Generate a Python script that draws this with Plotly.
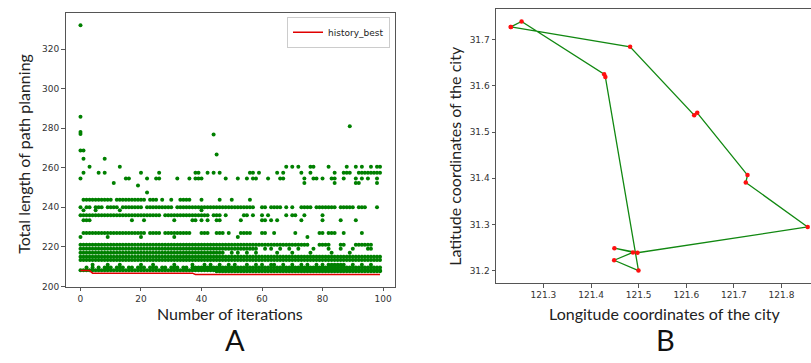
import plotly.graph_objects as go

W, H = 811, 363

# ---------------- Panel A data (iteration, path length) ----------------
# Each level: value and the iterations at which a point is seen at that level
lvl_values = [285.8, 278.0, 277.0, 276.8, 281.0, 268.7, 266.7, 264.5, 260.5,
              257.5, 254.5, 252.3, 251.0, 247.5, 243.8, 240.0, 238.5, 236.0,
              233.5, 227.0, 225.0, 221.0, 219.0, 217.0, 215.0, 213.3, 211.0,
              209.6, 208.2, 207.6]

lvl_iters = [
    [0],
    [0],
    [0],
    [44],
    [89],
    [0, 1],
    [45],
    [1, 8],
    [3, 13, 68, 70, 72, 76, 77, 82, 88, 91, 93, 96, 98, 99],
    [1, 6, 8, 20, 26, 38, 39, 42, 44, 46, 56, 57, 59, 65, 67, 73, 76, 84, 87, 88,
     89, 92, 93, 94, 95, 96, 97, 98, 99],
    [0, 15, 16, 22, 25, 26, 32, 36, 38, 39, 40, 48, 52, 55, 57, 58, 62, 66, 67, 74,
     77, 78, 80, 83, 84, 87, 91, 93, 95, 98],
    [11, 74, 84, 91, 92, 98],
    [19],
    [22],
    [1, 2, 3, 4, 5, 6, 7, 8, 9, 10, 12, 13, 14, 15, 16, 17, 18, 19, 20, 21, 23, 24,
     25, 27, 30, 33, 34, 35, 36, 40, 46, 50, 56],
    [0, 2, 3, 5, 6, 7, 9, 10, 11, 12, 14, 15, 16, 17, 18, 19, 20, 22, 23, 24, 25, 26,
     27, 28, 29, 30, 32, 33, 34, 35, 36, 37, 38, 39, 40, 41, 42, 43, 44, 45, 46, 47,
     48, 49, 50, 51, 52, 53, 54, 55, 56, 57, 60, 61, 63, 64, 65, 66, 68, 70, 73, 74,
     75, 76, 78, 79, 80, 81, 82, 83, 84, 86, 87, 88, 89, 90, 92, 93, 94, 98],
    [1, 5, 13, 40],
    [0, 1, 2, 3, 4, 5, 6, 7, 8, 9, 10, 11, 12, 13, 14, 15, 16, 17, 18, 19, 20, 21,
     22, 23, 24, 25, 26, 28, 29, 30, 31, 32, 33, 34, 35, 36, 37, 38, 39, 40, 41, 42,
     44, 45, 46, 48, 54, 55, 57, 60, 62, 68, 70, 71, 74, 80],
    [1, 2, 3, 17, 21, 31, 37, 38, 40, 42, 45, 46, 53, 60, 61, 63, 65, 73, 80, 86, 91],
    [1, 2, 3, 4, 5, 6, 7, 8, 9, 10, 11, 12, 13, 14, 15, 16, 17, 18, 19, 20, 21, 23,
     24, 25, 26, 28, 29, 30, 31, 32, 33, 34, 35, 36, 40, 41, 42, 45, 46, 47, 49, 53,
     54, 55, 56, 60, 61, 64, 71, 79, 80, 82, 83, 84, 87, 93],
    [0, 9, 20, 31, 52, 75],
    [0, 1, 2, 3, 4, 5, 6, 7, 8, 9, 10, 11, 12, 13, 14, 15, 16, 17, 18, 19, 20, 21,
     22, 23, 24, 25, 26, 27, 28, 29, 30, 31, 32, 33, 34, 35, 36, 37, 38, 39, 40, 41,
     42, 43, 44, 45, 46, 47, 48, 49, 50, 51, 52, 53, 54, 55, 56, 57, 58, 59, 60, 61,
     62, 63, 64, 65, 66, 67, 68, 69, 70, 71, 72, 73, 74, 75, 79, 80, 81, 82, 86, 87,
     91, 92, 93, 94, 95, 96],
    [0, 1, 2, 3, 4, 5, 6, 7, 8, 9, 10, 11, 12, 13, 14, 15, 16, 17, 18, 19, 20, 21,
     22, 23, 24, 25, 26, 27, 28, 29, 30, 31, 32, 33, 34, 35, 36, 37, 38, 39, 40, 41,
     42, 43, 44, 45, 46, 47, 48, 49, 50, 51, 52, 53, 54, 55, 56, 57, 58, 61, 63, 66,
     69, 72, 77, 82, 86, 90, 95, 96],
    [0, 1, 2, 3, 4, 5, 6, 7, 8, 9, 10, 11, 12, 13, 14, 15, 16, 17, 18, 19, 20, 21,
     22, 23, 24, 25, 26, 27, 28, 29, 30, 31, 32, 33, 34, 35, 36, 37, 38, 39, 40, 41,
     42, 43, 44, 45, 46, 47, 50, 52, 55, 58, 65, 70, 76, 83, 89],
    [0, 1, 2, 3, 4, 5, 6, 7, 8, 9, 10, 11, 12, 13, 14, 15, 16, 17, 18, 19, 20, 21,
     22, 23, 24, 25, 26, 27, 28, 29, 30, 31, 32, 33, 34, 35, 36, 37, 38, 39, 40, 41,
     42, 43, 44, 45, 46, 47, 48, 49, 50, 51, 52, 53, 54, 55, 56, 57, 58, 59, 60, 61,
     62, 63, 64, 65, 66, 67, 68, 69, 70, 71, 72, 73, 74, 75, 76, 77, 78, 79, 80, 81,
     82, 83, 84, 85, 86, 87, 88, 89, 90, 91, 92, 93, 94, 95, 96, 97, 98, 99],
    [0, 1, 2, 3, 4, 5, 6, 7, 8, 9, 10, 11, 12, 13, 14, 15, 16, 17, 18, 19, 20, 21,
     22, 23, 24, 25, 26, 27, 28, 29, 30, 31, 32, 33, 34, 35, 36, 37, 38, 39, 40, 41,
     42, 43, 44, 45, 46, 47, 48, 49, 50, 51, 52, 53, 54, 55, 56, 57, 58, 59, 60, 61,
     62, 63, 64, 65, 66, 67, 68, 69, 70, 71, 72, 73, 74, 75, 76, 77, 78, 79, 80, 81,
     82, 83, 84, 85, 86, 87, 88, 89, 90, 91, 92, 93, 94, 95, 96, 97, 98, 99],
    [4, 9, 13, 20, 24, 31, 37, 41, 43, 46, 49, 51, 55, 58, 60, 63, 64, 67, 70, 73,
     75, 78, 80, 82, 83, 84, 85, 86, 87, 90, 93, 96],
    [2, 4, 6, 8, 9, 10, 12, 13, 14, 16, 17, 19, 20, 21, 23, 24, 25, 27, 28, 30, 31,
     32, 34, 35, 37, 38, 39, 40, 41, 42, 43, 44, 45, 46, 47, 48, 49, 50, 51, 52, 53,
     54, 55, 56, 57, 58, 59, 60, 61, 62, 63, 64, 65, 66, 67, 68, 69, 70, 71, 72, 73,
     74, 75, 76, 77, 78, 79, 80, 81, 82, 83, 84, 85, 86, 87, 88, 89, 90, 91, 92, 93,
     94, 95, 96, 97, 98, 99],
    [0, 1, 2, 3, 4, 5, 6, 7, 8, 9, 10, 11, 12, 13, 14, 15, 16, 17, 18, 19, 20, 21,
     22, 23, 24, 25, 26, 27, 28, 29, 30, 31, 32, 33, 34, 35, 36, 37, 38, 39, 40, 41,
     42, 43, 44, 45, 46, 47, 48, 49, 50, 51, 52, 53, 54, 55, 56, 57, 58, 59, 60, 61,
     62, 63, 64, 65, 66, 67, 68, 69, 70, 71, 72, 73, 74, 75, 76, 77, 78, 79, 80, 81,
     82, 83, 84, 85, 86, 87, 88, 89, 90, 91, 92, 93, 94, 95, 96, 97, 98, 99],
    [45, 46, 47, 48, 49, 50, 51, 52, 53, 54, 55, 56, 57, 58, 59, 60, 61,
     62, 63, 64, 65, 66, 67, 68, 69, 70, 71, 72, 73, 74, 75, 76, 77, 78, 79, 80, 81,
     82, 83, 84, 85, 86, 87, 88, 89, 90, 91, 92, 93, 94, 95, 96, 97, 98, 99],
]
extra_top_iter = [0]
extra_top_value = [332.0]

# history best (runs of constant best value)
best_iters = list(range(100))
best_runs = [(0, 3, 208.0), (4, 37, 206.7), (38, 99, 206.0)]

# ---------------- Panel B data (tour) ----------------
lon = [121.2315, 121.254, 121.4275, 121.430, 121.4996, 121.4485, 121.488, 121.449,
       121.4975, 121.855, 121.725, 121.7286, 121.623, 121.6166, 121.482, 121.2315]
lat = [31.727, 31.739, 31.625, 31.619, 31.2007, 31.223, 31.240, 31.249,
       31.2393, 31.295, 31.391, 31.407, 31.5414, 31.5365, 31.684, 31.727]

# ---------------- build ----------------
sx, sy = list(extra_top_iter), list(extra_top_value)
for v, its in zip(lvl_values, lvl_iters):
    sx += its
    sy += [v] * len(its)

best_vals = []
for i in best_iters:
    for a, b, v in best_runs:
        if a <= i <= b:
            best_vals.append(v)

fig = go.Figure()
fig.add_trace(go.Scatter(x=sx, y=sy, mode="markers", showlegend=False,
                         marker=dict(color="#008000", size=4, line=dict(width=0)),
                         xaxis="x", yaxis="y"))
fig.add_trace(go.Scatter(x=best_iters, y=best_vals, mode="lines", name="history_best",
                         line=dict(color="#e00000", width=1.5), xaxis="x", yaxis="y"))
fig.add_trace(go.Scatter(x=lon, y=lat, mode="lines", showlegend=False,
                         line=dict(color="#118811", width=1.3), xaxis="x2", yaxis="y2"))
fig.add_trace(go.Scatter(x=lon, y=lat, mode="markers", showlegend=False,
                         marker=dict(color="#ff1010", size=4.5), xaxis="x2", yaxis="y2"))

def px(x):
    return x / W

def py(y):
    return 1 - y / H

tickfont = dict(family="DejaVu Sans", size=9, color="#333")
axcommon = dict(showgrid=False, zeroline=False, showline=True, linecolor="#555",
                linewidth=1, ticks="outside", ticklen=3.5, tickcolor="#555",
                tickwidth=1, tickfont=tickfont)

fig.update_layout(
    width=W, height=H, margin=dict(l=0, r=0, t=0, b=0),
    paper_bgcolor="white", plot_bgcolor="white",
    xaxis=dict(domain=[px(65.5), px(395)], range=[-4.95, 103.95],
               tickvals=[0, 20, 40, 60, 80, 100], mirror=True, anchor="y", **axcommon),
    yaxis=dict(domain=[py(291), py(13)], range=[199.7, 338.3],
               tickvals=[200, 220, 240, 260, 280, 300, 320], mirror=True, anchor="x",
               **axcommon),
    xaxis2=dict(domain=[px(496), 1.0], range=[121.2003, 121.862],
                tickvals=[121.3, 121.4, 121.5, 121.6, 121.7, 121.8], tickformat=".1f",
                mirror=True, anchor="y2", **axcommon),
    yaxis2=dict(domain=[py(287), py(9)], range=[31.1738, 31.766],
                tickvals=[31.2, 31.3, 31.4, 31.5, 31.6, 31.7], tickformat=".1f",
                anchor="x2", **axcommon),
    legend=dict(x=px(390), y=py(17), xanchor="right", yanchor="top",
                bgcolor="white", bordercolor="#ccc", borderwidth=1,
                font=dict(family="DejaVu Sans", size=9, color="#222"),
                itemwidth=30, tracegroupgap=0),
)

labfont = dict(family="Lato", size=16, color="#222")
ann = [
    dict(text="Total length of path planning", x=px(24), y=py(156), textangle=-90,
         font=labfont, yanchor="middle"),
    dict(text="Number of iterations", x=px(230), y=py(318), font=labfont, yanchor="middle"),
    dict(text="A", x=px(235), y=0, font=dict(family="Lato", size=29, color="#111"),
         yanchor="bottom"),
    dict(text="Latitude coordinates of the city", x=px(455), y=py(158), textangle=-90,
         font=labfont, yanchor="middle"),
    dict(text="Longitude coordinates of the city", x=px(665), y=py(318), font=labfont,
         yanchor="middle"),
    dict(text="B", x=px(665), y=0, font=dict(family="Lato", size=29, color="#111"),
         yanchor="bottom"),
]
for a in ann:
    a.update(xref="paper", yref="paper", showarrow=False, xanchor="center", borderpad=0)
fig.update_layout(annotations=ann)

fig.write_html("out.html")
